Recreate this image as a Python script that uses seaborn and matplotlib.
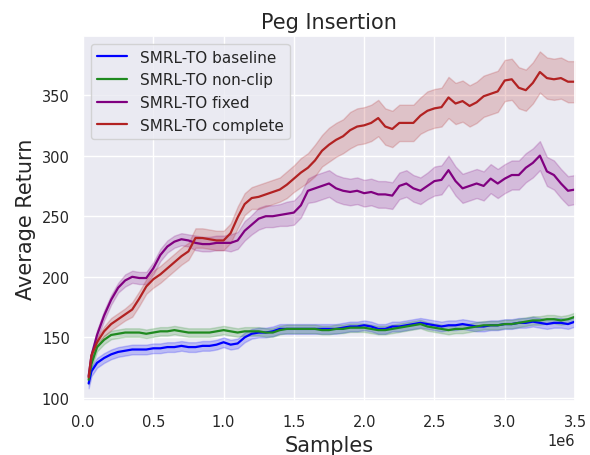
import numpy as np
import pandas as pd
import seaborn as sns
import matplotlib
matplotlib.use("Agg")
import matplotlib.pyplot as plt

# sample positions (in units of 1e6 samples)
samples = [0.04, 0.06,
           0.10, 0.15, 0.20, 0.25, 0.30, 0.35, 0.40, 0.45, 0.50, 0.55,
           0.60, 0.65, 0.70, 0.75, 0.80, 0.85, 0.90, 0.95, 1.00, 1.05,
           1.10, 1.15, 1.20, 1.25, 1.30, 1.35, 1.40, 1.45, 1.50, 1.55,
           1.60, 1.65, 1.70, 1.75, 1.80, 1.85, 1.90, 1.95, 2.00, 2.05,
           2.10, 2.15, 2.20, 2.25, 2.30, 2.35, 2.40, 2.45, 2.50, 2.55,
           2.60, 2.65, 2.70, 2.75, 2.80, 2.85, 2.90, 2.95, 3.00, 3.05,
           3.10, 3.15, 3.20, 3.25, 3.30, 3.35, 3.40, 3.45, 3.50]

baseline = [112, 122,
            129, 133, 136, 138, 139, 140, 140, 140, 141, 141,
            142, 142, 143, 142, 142, 143, 143, 144, 146, 144,
            145, 150, 153, 154, 154, 155, 157, 157, 157, 157,
            157, 157, 157, 157, 157, 158, 159, 159, 160, 159,
            157, 157, 159, 159, 160, 161, 162, 161, 160, 159,
            160, 160, 161, 160, 159, 159, 160, 160, 161, 161,
            162, 162, 163, 162, 161, 162, 162, 161, 163]

non_clip = [115, 128,
            142, 148, 152, 153, 154, 154, 154, 153, 154, 155,
            155, 156, 155, 154, 154, 154, 154, 155, 156, 155,
            154, 155, 155, 155, 154, 154, 156, 157, 157, 157,
            157, 157, 156, 156, 157, 157, 158, 158, 158, 157,
            156, 156, 157, 158, 159, 160, 161, 159, 158, 157,
            156, 157, 157, 158, 159, 160, 160, 160, 161, 161,
            162, 163, 164, 164, 165, 165, 164, 165, 167]

fixed = [118, 135,
         152, 168, 181, 191, 197, 200, 199, 199, 207, 218,
         225, 229, 231, 230, 228, 227, 227, 228, 228, 228,
         230, 238, 243, 248, 250, 250, 251, 252, 253, 259,
         271, 273, 275, 277, 273, 271, 270, 271, 269, 270,
         268, 268, 267, 275, 277, 273, 271, 275, 279, 280,
         288, 279, 273, 275, 277, 275, 281, 277, 281, 284,
         284, 290, 294, 300, 287, 284, 277, 271, 272]

complete = [117, 135,
            146, 155, 161, 165, 169, 173, 182, 192, 198, 202,
            207, 212, 217, 221, 232, 232, 231, 230, 230, 236,
            249, 260, 265, 266, 268, 270, 272, 276, 281, 286,
            290, 296, 304, 309, 313, 316, 321, 324, 325, 327,
            331, 324, 322, 327, 327, 327, 333, 337, 339, 340,
            348, 343, 345, 341, 344, 349, 351, 353, 362, 363,
            356, 354, 360, 369, 364, 363, 364, 361, 361]

# half-width of the shaded band
spread_baseline = 4
spread_non_clip = 3.5
spread_fixed = [2, 3,
                4, 4, 4, 4, 5, 5, 5, 5, 5, 5,
                5, 5, 5, 5, 6, 6, 6, 6, 6, 7,
                7, 8, 8, 9, 9, 9, 9, 10, 10, 10,
                10, 11, 11, 11, 11, 11, 11, 11, 11, 11,
                11, 11, 11, 11, 11, 11, 11, 11, 12, 12,
                12, 12, 12, 12, 12, 12, 12, 12, 12, 12,
                12, 12, 12, 12, 12, 12, 12, 12, 12]
spread_complete = [2, 3,
                   4, 4, 5, 5, 5, 6, 6, 6, 7, 7,
                   7, 7, 7, 7, 8, 8, 8, 8, 8, 8,
                   9, 9, 9, 10, 10, 10, 10, 11, 11, 12,
                   12, 13, 13, 14, 14, 14, 15, 15, 15, 15,
                   15, 15, 15, 15, 15, 15, 15, 16, 16, 16,
                   17, 17, 17, 17, 17, 17, 17, 17, 17, 17,
                   17, 17, 17, 17, 17, 17, 17, 17, 17]

methods = ["SMRL-TO baseline", "SMRL-TO non-clip", "SMRL-TO fixed", "SMRL-TO complete"]
colors = ["#0000ff", "#1f8a1f", "#800080", "#b22222"]

series = {
    methods[0]: (baseline, spread_baseline),
    methods[1]: (non_clip, spread_non_clip),
    methods[2]: (fixed, spread_fixed),
    methods[3]: (complete, spread_complete),
}

# long-form table: lower / mean / upper per point so the band is the min-max range
rows = []
for name, (vals, spread) in series.items():
    sp = np.broadcast_to(np.asarray(spread, dtype=float), (len(vals),))
    for x, v, s in zip(samples, vals, sp):
        for off in (-s, 0.0, s):
            rows.append({"Samples": x * 1e6, "Average Return": v + off, "method": name})
df = pd.DataFrame(rows)

sns.set_theme(style="darkgrid")
plt.rcParams["font.family"] = ["DejaVu Sans"]

fig = plt.figure(figsize=(5.9, 4.56), dpi=100)
ax = fig.add_axes([0.1407, 0.1184, 0.8339, 0.8004])

sns.lineplot(data=df, x="Samples", y="Average Return", hue="method",
             hue_order=methods, palette=colors, estimator="mean",
             errorbar=("pi", 100), linewidth=1.6, ax=ax)

ax.set_xlim(0, 3.5e6)
ax.set_ylim(97.5, 398.7)
ax.set_title("Peg Insertion", fontsize=15)
ax.set_xlabel("Samples", fontsize=15)
ax.set_ylabel("Average Return", fontsize=15)
ax.tick_params(labelsize=10.5)
ax.xaxis.get_offset_text().set_fontsize(10.5)
ax.legend(loc="upper left", fontsize=11, title=None)

fig.savefig("out.png", dpi=100)
